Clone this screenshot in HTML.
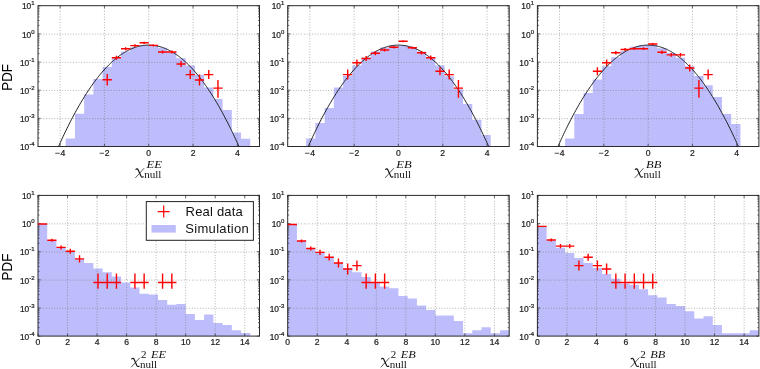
<!DOCTYPE html>
<html><head><meta charset="utf-8"><title>chart</title><style>
html,body{margin:0;padding:0;background:#fff;}
svg{display:block;will-change:transform;opacity:0.999}
.g{stroke:#666;stroke-width:0.55;stroke-dasharray:0.9 1.8;fill:none}
.t{font-family:"Liberation Sans",sans-serif;font-size:8.4px;fill:#222;stroke:#222;stroke-width:0.22px}
.s{font-size:6px}
.yl{font-family:"Liberation Sans",sans-serif;font-size:14.9px;fill:#000}
.lg{font-family:"Liberation Sans",sans-serif;font-size:13px;fill:#111}
.mi{font-family:"Liberation Serif",serif;font-style:italic;fill:#111}
.mr{font-family:"Liberation Serif",serif;fill:#111}
</style></head><body>
<svg width="760" height="369" viewBox="0 0 760 369">
<rect width="760" height="369" fill="#fff"/>
<path d="M38.00 146.50 L38.00 146.50 L47.23 146.50 L47.23 146.50 L56.46 146.50 L56.46 146.50 L65.69 146.50 L65.69 138.50 L74.92 138.50 L74.92 113.70 L84.15 113.70 L84.15 94.60 L93.38 94.60 L93.38 79.00 L102.60 79.00 L102.60 66.90 L111.83 66.90 L111.83 57.70 L121.06 57.70 L121.06 51.40 L130.29 51.40 L130.29 47.20 L139.52 47.20 L139.52 45.20 L148.75 45.20 L148.75 45.20 L157.98 45.20 L157.98 47.80 L167.21 47.80 L167.21 52.20 L176.44 52.20 L176.44 58.20 L185.67 58.20 L185.67 65.60 L194.90 65.60 L194.90 74.80 L204.12 74.80 L204.12 87.50 L213.35 87.50 L213.35 99.00 L222.58 99.00 L222.58 110.00 L231.81 110.00 L231.81 132.60 L241.04 132.60 L241.04 138.80 L250.27 138.80 L250.27 146.50 L259.50 146.50 L259.50 146.50 Z" fill="#bdbdfc"/>
<line x1="60.15" y1="5.70" x2="60.15" y2="146.50" class="g"/>
<line x1="104.45" y1="5.70" x2="104.45" y2="146.50" class="g"/>
<line x1="148.75" y1="5.70" x2="148.75" y2="146.50" class="g"/>
<line x1="193.05" y1="5.70" x2="193.05" y2="146.50" class="g"/>
<line x1="237.35" y1="5.70" x2="237.35" y2="146.50" class="g"/>
<line x1="38.00" y1="34.16" x2="259.50" y2="34.16" class="g"/>
<line x1="38.00" y1="62.32" x2="259.50" y2="62.32" class="g"/>
<line x1="38.00" y1="90.48" x2="259.50" y2="90.48" class="g"/>
<line x1="38.00" y1="118.64" x2="259.50" y2="118.64" class="g"/>
<polyline points="58.51,146.59 59.44,144.51 60.37,142.45 61.30,140.41 62.23,138.39 63.16,136.40 64.09,134.42 65.02,132.47 65.95,130.54 66.88,128.63 67.81,126.74 68.74,124.88 69.67,123.03 70.60,121.21 71.54,119.41 72.47,117.63 73.40,115.87 74.33,114.13 75.26,112.42 76.19,110.72 77.12,109.05 78.05,107.40 78.98,105.77 79.91,104.17 80.84,102.58 81.77,101.02 82.70,99.47 83.63,97.95 84.56,96.45 85.49,94.98 86.42,93.52 87.35,92.08 88.28,90.67 89.21,89.28 90.14,87.91 91.07,86.56 92.00,85.24 92.93,83.93 93.86,82.65 94.79,81.38 95.72,80.14 96.65,78.93 97.58,77.73 98.51,76.55 99.44,75.40 100.37,74.27 101.30,73.15 102.23,72.07 103.17,71.00 104.10,69.95 105.03,68.93 105.96,67.92 106.89,66.94 107.82,65.98 108.75,65.04 109.68,64.13 110.61,63.23 111.54,62.36 112.47,61.50 113.40,60.67 114.33,59.87 115.26,59.08 116.19,58.31 117.12,57.57 118.05,56.85 118.98,56.14 119.91,55.46 120.84,54.81 121.77,54.17 122.70,53.56 123.63,52.96 124.56,52.39 125.49,51.84 126.42,51.31 127.35,50.80 128.28,50.32 129.21,49.86 130.14,49.41 131.07,48.99 132.00,48.59 132.93,48.22 133.87,47.86 134.80,47.53 135.73,47.21 136.66,46.92 137.59,46.65 138.52,46.40 139.45,46.18 140.38,45.97 141.31,45.79 142.24,45.63 143.17,45.49 144.10,45.37 145.03,45.27 145.96,45.20 146.89,45.14 147.82,45.11 148.75,45.10 149.68,45.11 150.61,45.14 151.54,45.20 152.47,45.27 153.40,45.37 154.33,45.49 155.26,45.63 156.19,45.79 157.12,45.97 158.05,46.18 158.98,46.40 159.91,46.65 160.84,46.92 161.77,47.21 162.70,47.53 163.63,47.86 164.57,48.22 165.50,48.59 166.43,48.99 167.36,49.41 168.29,49.86 169.22,50.32 170.15,50.80 171.08,51.31 172.01,51.84 172.94,52.39 173.87,52.96 174.80,53.56 175.73,54.17 176.66,54.81 177.59,55.46 178.52,56.14 179.45,56.85 180.38,57.57 181.31,58.31 182.24,59.08 183.17,59.87 184.10,60.67 185.03,61.50 185.96,62.36 186.89,63.23 187.82,64.13 188.75,65.04 189.68,65.98 190.61,66.94 191.54,67.92 192.47,68.93 193.40,69.95 194.33,71.00 195.26,72.07 196.20,73.15 197.13,74.27 198.06,75.40 198.99,76.55 199.92,77.73 200.85,78.93 201.78,80.14 202.71,81.38 203.64,82.65 204.57,83.93 205.50,85.24 206.43,86.56 207.36,87.91 208.29,89.28 209.22,90.67 210.15,92.08 211.08,93.52 212.01,94.98 212.94,96.45 213.87,97.95 214.80,99.47 215.73,101.02 216.66,102.58 217.59,104.17 218.52,105.77 219.45,107.40 220.38,109.05 221.31,110.72 222.24,112.42 223.17,114.13 224.10,115.87 225.03,117.63 225.96,119.41 226.90,121.21 227.83,123.03 228.76,124.88 229.69,126.74 230.62,128.63 231.55,130.54 232.48,132.47 233.41,134.42 234.34,136.40 235.27,138.39 236.20,140.41 237.13,142.45 238.06,144.51 238.99,146.59" fill="none" stroke="#1c1c1c" stroke-width="0.98"/>
<path d="M60.15 146.50v-2.6M60.15 5.70v2.6M104.45 146.50v-2.6M104.45 5.70v2.6M148.75 146.50v-2.6M148.75 5.70v2.6M193.05 146.50v-2.6M193.05 5.70v2.6M237.35 146.50v-2.6M237.35 5.70v2.6M38.00 5.70h2.6M259.50 5.70h-2.6M38.00 25.38h1.5M259.50 25.38h-1.5M38.00 20.42h1.5M259.50 20.42h-1.5M38.00 16.91h1.5M259.50 16.91h-1.5M38.00 14.18h1.5M259.50 14.18h-1.5M38.00 11.95h1.5M259.50 11.95h-1.5M38.00 10.06h1.5M259.50 10.06h-1.5M38.00 8.43h1.5M259.50 8.43h-1.5M38.00 6.99h1.5M259.50 6.99h-1.5M38.00 33.86h2.6M259.50 33.86h-2.6M38.00 53.54h1.5M259.50 53.54h-1.5M38.00 48.58h1.5M259.50 48.58h-1.5M38.00 45.07h1.5M259.50 45.07h-1.5M38.00 42.34h1.5M259.50 42.34h-1.5M38.00 40.11h1.5M259.50 40.11h-1.5M38.00 38.22h1.5M259.50 38.22h-1.5M38.00 36.59h1.5M259.50 36.59h-1.5M38.00 35.15h1.5M259.50 35.15h-1.5M38.00 62.02h2.6M259.50 62.02h-2.6M38.00 81.70h1.5M259.50 81.70h-1.5M38.00 76.74h1.5M259.50 76.74h-1.5M38.00 73.23h1.5M259.50 73.23h-1.5M38.00 70.50h1.5M259.50 70.50h-1.5M38.00 68.27h1.5M259.50 68.27h-1.5M38.00 66.38h1.5M259.50 66.38h-1.5M38.00 64.75h1.5M259.50 64.75h-1.5M38.00 63.31h1.5M259.50 63.31h-1.5M38.00 90.18h2.6M259.50 90.18h-2.6M38.00 109.86h1.5M259.50 109.86h-1.5M38.00 104.90h1.5M259.50 104.90h-1.5M38.00 101.39h1.5M259.50 101.39h-1.5M38.00 98.66h1.5M259.50 98.66h-1.5M38.00 96.43h1.5M259.50 96.43h-1.5M38.00 94.54h1.5M259.50 94.54h-1.5M38.00 92.91h1.5M259.50 92.91h-1.5M38.00 91.47h1.5M259.50 91.47h-1.5M38.00 118.34h2.6M259.50 118.34h-2.6M38.00 138.02h1.5M259.50 138.02h-1.5M38.00 133.06h1.5M259.50 133.06h-1.5M38.00 129.55h1.5M259.50 129.55h-1.5M38.00 126.82h1.5M259.50 126.82h-1.5M38.00 124.59h1.5M259.50 124.59h-1.5M38.00 122.70h1.5M259.50 122.70h-1.5M38.00 121.07h1.5M259.50 121.07h-1.5M38.00 119.63h1.5M259.50 119.63h-1.5M38.00 146.50h2.6M259.50 146.50h-2.6" stroke="#2a2a2a" stroke-width="0.7" fill="none"/>
<rect x="38.00" y="5.70" width="221.50" height="140.80" fill="none" stroke="#2a2a2a" stroke-width="1"/>
<path d="M102.60 79.80H111.83M107.22 74.10V85.50M111.83 57.70H121.06M116.45 55.70V59.70M121.06 48.70H130.29M125.68 47.20V50.20M130.29 45.60H139.52M134.91 44.30V46.90M139.52 42.80H148.75M144.14 41.70V43.90M148.75 45.40H157.98M153.36 44.30V46.50M157.98 52.00H167.21M162.59 50.40V53.60M167.21 52.00H176.44M171.82 50.40V53.60M176.44 64.00H185.67M181.05 61.00V67.00M185.67 74.60H194.90M190.28 70.10V79.10M194.90 80.00H204.12M199.51 74.40V85.60M204.12 74.60H213.35M208.74 70.10V79.10M213.35 88.10H222.58M217.97 79.90V97.70" stroke="#ff0000" stroke-width="1.4" fill="none"/>
<path d="M55.25 153.25h4.5" stroke="#222" stroke-width="0.8" fill="none"/>
<text x="60.45" y="155.50" class="t" style="font-size:8.6px">4</text>
<path d="M99.55 153.25h4.5" stroke="#222" stroke-width="0.8" fill="none"/>
<text x="104.75" y="155.50" class="t" style="font-size:8.6px">2</text>
<text x="148.75" y="155.50" class="t" style="font-size:8.6px" text-anchor="middle">0</text>
<text x="193.05" y="155.50" class="t" style="font-size:8.6px" text-anchor="middle">2</text>
<text x="237.35" y="155.50" class="t" style="font-size:8.6px" text-anchor="middle">4</text>
<text x="34.60" y="9.40" class="t" text-anchor="end">10<tspan class="s" dy="-3.9">1</tspan></text>
<text x="34.60" y="37.56" class="t" text-anchor="end">10<tspan class="s" dy="-3.9">0</tspan></text>
<text x="34.60" y="65.72" class="t" text-anchor="end">10<tspan class="s" dy="-3.9">-1</tspan></text>
<text x="34.60" y="93.88" class="t" text-anchor="end">10<tspan class="s" dy="-3.9">-2</tspan></text>
<text x="34.60" y="122.04" class="t" text-anchor="end">10<tspan class="s" dy="-3.9">-3</tspan></text>
<text x="34.60" y="150.20" class="t" text-anchor="end">10<tspan class="s" dy="-3.9">-4</tspan></text>
<path d="M287.70 146.50 L287.70 146.50 L296.93 146.50 L296.93 146.50 L306.16 146.50 L306.16 138.50 L315.39 138.50 L315.39 122.90 L324.62 122.90 L324.62 108.00 L333.85 108.00 L333.85 87.60 L343.07 87.60 L343.07 75.90 L352.30 75.90 L352.30 65.50 L361.53 65.50 L361.53 57.60 L370.76 57.60 L370.76 51.60 L379.99 51.60 L379.99 47.60 L389.22 47.60 L389.22 45.40 L398.45 45.40 L398.45 45.40 L407.68 45.40 L407.68 47.60 L416.91 47.60 L416.91 51.60 L426.14 51.60 L426.14 57.60 L435.37 57.60 L435.37 65.40 L444.60 65.40 L444.60 76.30 L453.82 76.30 L453.82 89.30 L463.05 89.30 L463.05 103.90 L472.28 103.90 L472.28 119.80 L481.51 119.80 L481.51 135.10 L490.74 135.10 L490.74 146.50 L499.97 146.50 L499.97 146.50 L509.20 146.50 L509.20 146.50 Z" fill="#bdbdfc"/>
<line x1="309.85" y1="5.70" x2="309.85" y2="146.50" class="g"/>
<line x1="354.15" y1="5.70" x2="354.15" y2="146.50" class="g"/>
<line x1="398.45" y1="5.70" x2="398.45" y2="146.50" class="g"/>
<line x1="442.75" y1="5.70" x2="442.75" y2="146.50" class="g"/>
<line x1="487.05" y1="5.70" x2="487.05" y2="146.50" class="g"/>
<line x1="287.70" y1="34.16" x2="509.20" y2="34.16" class="g"/>
<line x1="287.70" y1="62.32" x2="509.20" y2="62.32" class="g"/>
<line x1="287.70" y1="90.48" x2="509.20" y2="90.48" class="g"/>
<line x1="287.70" y1="118.64" x2="509.20" y2="118.64" class="g"/>
<polyline points="308.21,146.59 309.14,144.51 310.07,142.45 311.00,140.41 311.93,138.39 312.86,136.40 313.79,134.42 314.72,132.47 315.65,130.54 316.58,128.63 317.51,126.74 318.44,124.88 319.37,123.03 320.30,121.21 321.24,119.41 322.17,117.63 323.10,115.87 324.03,114.13 324.96,112.42 325.89,110.72 326.82,109.05 327.75,107.40 328.68,105.77 329.61,104.17 330.54,102.58 331.47,101.02 332.40,99.47 333.33,97.95 334.26,96.45 335.19,94.98 336.12,93.52 337.05,92.08 337.98,90.67 338.91,89.28 339.84,87.91 340.77,86.56 341.70,85.24 342.63,83.93 343.56,82.65 344.49,81.38 345.42,80.14 346.35,78.93 347.28,77.73 348.21,76.55 349.14,75.40 350.07,74.27 351.00,73.15 351.94,72.07 352.87,71.00 353.80,69.95 354.73,68.93 355.66,67.92 356.59,66.94 357.52,65.98 358.45,65.04 359.38,64.13 360.31,63.23 361.24,62.36 362.17,61.50 363.10,60.67 364.03,59.87 364.96,59.08 365.89,58.31 366.82,57.57 367.75,56.85 368.68,56.14 369.61,55.46 370.54,54.81 371.47,54.17 372.40,53.56 373.33,52.96 374.26,52.39 375.19,51.84 376.12,51.31 377.05,50.80 377.98,50.32 378.91,49.86 379.84,49.41 380.77,48.99 381.70,48.59 382.63,48.22 383.57,47.86 384.50,47.53 385.43,47.21 386.36,46.92 387.29,46.65 388.22,46.40 389.15,46.18 390.08,45.97 391.01,45.79 391.94,45.63 392.87,45.49 393.80,45.37 394.73,45.27 395.66,45.20 396.59,45.14 397.52,45.11 398.45,45.10 399.38,45.11 400.31,45.14 401.24,45.20 402.17,45.27 403.10,45.37 404.03,45.49 404.96,45.63 405.89,45.79 406.82,45.97 407.75,46.18 408.68,46.40 409.61,46.65 410.54,46.92 411.47,47.21 412.40,47.53 413.33,47.86 414.27,48.22 415.20,48.59 416.13,48.99 417.06,49.41 417.99,49.86 418.92,50.32 419.85,50.80 420.78,51.31 421.71,51.84 422.64,52.39 423.57,52.96 424.50,53.56 425.43,54.17 426.36,54.81 427.29,55.46 428.22,56.14 429.15,56.85 430.08,57.57 431.01,58.31 431.94,59.08 432.87,59.87 433.80,60.67 434.73,61.50 435.66,62.36 436.59,63.23 437.52,64.13 438.45,65.04 439.38,65.98 440.31,66.94 441.24,67.92 442.17,68.93 443.10,69.95 444.03,71.00 444.96,72.07 445.90,73.15 446.83,74.27 447.76,75.40 448.69,76.55 449.62,77.73 450.55,78.93 451.48,80.14 452.41,81.38 453.34,82.65 454.27,83.93 455.20,85.24 456.13,86.56 457.06,87.91 457.99,89.28 458.92,90.67 459.85,92.08 460.78,93.52 461.71,94.98 462.64,96.45 463.57,97.95 464.50,99.47 465.43,101.02 466.36,102.58 467.29,104.17 468.22,105.77 469.15,107.40 470.08,109.05 471.01,110.72 471.94,112.42 472.87,114.13 473.80,115.87 474.73,117.63 475.66,119.41 476.60,121.21 477.53,123.03 478.46,124.88 479.39,126.74 480.32,128.63 481.25,130.54 482.18,132.47 483.11,134.42 484.04,136.40 484.97,138.39 485.90,140.41 486.83,142.45 487.76,144.51 488.69,146.59" fill="none" stroke="#1c1c1c" stroke-width="0.98"/>
<path d="M309.85 146.50v-2.6M309.85 5.70v2.6M354.15 146.50v-2.6M354.15 5.70v2.6M398.45 146.50v-2.6M398.45 5.70v2.6M442.75 146.50v-2.6M442.75 5.70v2.6M487.05 146.50v-2.6M487.05 5.70v2.6M287.70 5.70h2.6M509.20 5.70h-2.6M287.70 25.38h1.5M509.20 25.38h-1.5M287.70 20.42h1.5M509.20 20.42h-1.5M287.70 16.91h1.5M509.20 16.91h-1.5M287.70 14.18h1.5M509.20 14.18h-1.5M287.70 11.95h1.5M509.20 11.95h-1.5M287.70 10.06h1.5M509.20 10.06h-1.5M287.70 8.43h1.5M509.20 8.43h-1.5M287.70 6.99h1.5M509.20 6.99h-1.5M287.70 33.86h2.6M509.20 33.86h-2.6M287.70 53.54h1.5M509.20 53.54h-1.5M287.70 48.58h1.5M509.20 48.58h-1.5M287.70 45.07h1.5M509.20 45.07h-1.5M287.70 42.34h1.5M509.20 42.34h-1.5M287.70 40.11h1.5M509.20 40.11h-1.5M287.70 38.22h1.5M509.20 38.22h-1.5M287.70 36.59h1.5M509.20 36.59h-1.5M287.70 35.15h1.5M509.20 35.15h-1.5M287.70 62.02h2.6M509.20 62.02h-2.6M287.70 81.70h1.5M509.20 81.70h-1.5M287.70 76.74h1.5M509.20 76.74h-1.5M287.70 73.23h1.5M509.20 73.23h-1.5M287.70 70.50h1.5M509.20 70.50h-1.5M287.70 68.27h1.5M509.20 68.27h-1.5M287.70 66.38h1.5M509.20 66.38h-1.5M287.70 64.75h1.5M509.20 64.75h-1.5M287.70 63.31h1.5M509.20 63.31h-1.5M287.70 90.18h2.6M509.20 90.18h-2.6M287.70 109.86h1.5M509.20 109.86h-1.5M287.70 104.90h1.5M509.20 104.90h-1.5M287.70 101.39h1.5M509.20 101.39h-1.5M287.70 98.66h1.5M509.20 98.66h-1.5M287.70 96.43h1.5M509.20 96.43h-1.5M287.70 94.54h1.5M509.20 94.54h-1.5M287.70 92.91h1.5M509.20 92.91h-1.5M287.70 91.47h1.5M509.20 91.47h-1.5M287.70 118.34h2.6M509.20 118.34h-2.6M287.70 138.02h1.5M509.20 138.02h-1.5M287.70 133.06h1.5M509.20 133.06h-1.5M287.70 129.55h1.5M509.20 129.55h-1.5M287.70 126.82h1.5M509.20 126.82h-1.5M287.70 124.59h1.5M509.20 124.59h-1.5M287.70 122.70h1.5M509.20 122.70h-1.5M287.70 121.07h1.5M509.20 121.07h-1.5M287.70 119.63h1.5M509.20 119.63h-1.5M287.70 146.50h2.6M509.20 146.50h-2.6" stroke="#2a2a2a" stroke-width="0.7" fill="none"/>
<rect x="287.70" y="5.70" width="221.50" height="140.80" fill="none" stroke="#2a2a2a" stroke-width="1"/>
<path d="M343.07 74.60H352.30M347.69 69.60V79.60M352.30 62.80H361.53M356.92 59.50V66.10M361.53 58.50H370.76M366.15 56.00V61.00M370.76 53.30H379.99M375.38 51.30V55.30M379.99 50.00H389.22M384.61 48.40V51.60M389.22 47.20H398.45M393.84 45.90V48.50M398.45 41.20H407.68M403.06 40.20V42.20M407.68 47.80H416.91M412.29 46.50V49.10M416.91 52.70H426.14M421.52 51.00V54.40M426.14 57.70H435.37M430.75 55.50V59.90M435.37 71.20H444.60M439.98 67.20V75.20M444.60 74.60H453.82M449.21 69.60V79.60M453.82 88.10H463.05M458.44 79.90V97.70" stroke="#ff0000" stroke-width="1.4" fill="none"/>
<path d="M304.95 153.25h4.5" stroke="#222" stroke-width="0.8" fill="none"/>
<text x="310.15" y="155.50" class="t" style="font-size:8.6px">4</text>
<path d="M349.25 153.25h4.5" stroke="#222" stroke-width="0.8" fill="none"/>
<text x="354.45" y="155.50" class="t" style="font-size:8.6px">2</text>
<text x="398.45" y="155.50" class="t" style="font-size:8.6px" text-anchor="middle">0</text>
<text x="442.75" y="155.50" class="t" style="font-size:8.6px" text-anchor="middle">2</text>
<text x="487.05" y="155.50" class="t" style="font-size:8.6px" text-anchor="middle">4</text>
<text x="284.30" y="9.40" class="t" text-anchor="end">10<tspan class="s" dy="-3.9">1</tspan></text>
<text x="284.30" y="37.56" class="t" text-anchor="end">10<tspan class="s" dy="-3.9">0</tspan></text>
<text x="284.30" y="65.72" class="t" text-anchor="end">10<tspan class="s" dy="-3.9">-1</tspan></text>
<text x="284.30" y="93.88" class="t" text-anchor="end">10<tspan class="s" dy="-3.9">-2</tspan></text>
<text x="284.30" y="122.04" class="t" text-anchor="end">10<tspan class="s" dy="-3.9">-3</tspan></text>
<text x="284.30" y="150.20" class="t" text-anchor="end">10<tspan class="s" dy="-3.9">-4</tspan></text>
<path d="M537.40 146.50 L537.40 146.50 L546.63 146.50 L546.63 146.50 L555.86 146.50 L555.86 146.50 L565.09 146.50 L565.09 138.50 L574.32 138.50 L574.32 114.10 L583.55 114.10 L583.55 92.90 L592.77 92.90 L592.77 79.40 L602.00 79.40 L602.00 66.30 L611.23 66.30 L611.23 57.30 L620.46 57.30 L620.46 50.90 L629.69 50.90 L629.69 46.70 L638.92 46.70 L638.92 45.10 L648.15 45.10 L648.15 45.10 L657.38 45.10 L657.38 48.30 L666.61 48.30 L666.61 53.00 L675.84 53.00 L675.84 57.70 L685.07 57.70 L685.07 66.30 L694.30 66.30 L694.30 75.90 L703.52 75.90 L703.52 85.20 L712.75 85.20 L712.75 97.10 L721.98 97.10 L721.98 114.10 L731.21 114.10 L731.21 123.90 L740.44 123.90 L740.44 146.50 L749.67 146.50 L749.67 146.50 L758.90 146.50 L758.90 146.50 Z" fill="#bdbdfc"/>
<line x1="559.55" y1="5.70" x2="559.55" y2="146.50" class="g"/>
<line x1="603.85" y1="5.70" x2="603.85" y2="146.50" class="g"/>
<line x1="648.15" y1="5.70" x2="648.15" y2="146.50" class="g"/>
<line x1="692.45" y1="5.70" x2="692.45" y2="146.50" class="g"/>
<line x1="736.75" y1="5.70" x2="736.75" y2="146.50" class="g"/>
<line x1="537.40" y1="34.16" x2="758.90" y2="34.16" class="g"/>
<line x1="537.40" y1="62.32" x2="758.90" y2="62.32" class="g"/>
<line x1="537.40" y1="90.48" x2="758.90" y2="90.48" class="g"/>
<line x1="537.40" y1="118.64" x2="758.90" y2="118.64" class="g"/>
<polyline points="557.91,146.59 558.84,144.51 559.77,142.45 560.70,140.41 561.63,138.39 562.56,136.40 563.49,134.42 564.42,132.47 565.35,130.54 566.28,128.63 567.21,126.74 568.14,124.88 569.07,123.03 570.00,121.21 570.94,119.41 571.87,117.63 572.80,115.87 573.73,114.13 574.66,112.42 575.59,110.72 576.52,109.05 577.45,107.40 578.38,105.77 579.31,104.17 580.24,102.58 581.17,101.02 582.10,99.47 583.03,97.95 583.96,96.45 584.89,94.98 585.82,93.52 586.75,92.08 587.68,90.67 588.61,89.28 589.54,87.91 590.47,86.56 591.40,85.24 592.33,83.93 593.26,82.65 594.19,81.38 595.12,80.14 596.05,78.93 596.98,77.73 597.91,76.55 598.84,75.40 599.77,74.27 600.70,73.15 601.63,72.07 602.57,71.00 603.50,69.95 604.43,68.93 605.36,67.92 606.29,66.94 607.22,65.98 608.15,65.04 609.08,64.13 610.01,63.23 610.94,62.36 611.87,61.50 612.80,60.67 613.73,59.87 614.66,59.08 615.59,58.31 616.52,57.57 617.45,56.85 618.38,56.14 619.31,55.46 620.24,54.81 621.17,54.17 622.10,53.56 623.03,52.96 623.96,52.39 624.89,51.84 625.82,51.31 626.75,50.80 627.68,50.32 628.61,49.86 629.54,49.41 630.47,48.99 631.40,48.59 632.33,48.22 633.27,47.86 634.20,47.53 635.13,47.21 636.06,46.92 636.99,46.65 637.92,46.40 638.85,46.18 639.78,45.97 640.71,45.79 641.64,45.63 642.57,45.49 643.50,45.37 644.43,45.27 645.36,45.20 646.29,45.14 647.22,45.11 648.15,45.10 649.08,45.11 650.01,45.14 650.94,45.20 651.87,45.27 652.80,45.37 653.73,45.49 654.66,45.63 655.59,45.79 656.52,45.97 657.45,46.18 658.38,46.40 659.31,46.65 660.24,46.92 661.17,47.21 662.10,47.53 663.03,47.86 663.97,48.22 664.90,48.59 665.83,48.99 666.76,49.41 667.69,49.86 668.62,50.32 669.55,50.80 670.48,51.31 671.41,51.84 672.34,52.39 673.27,52.96 674.20,53.56 675.13,54.17 676.06,54.81 676.99,55.46 677.92,56.14 678.85,56.85 679.78,57.57 680.71,58.31 681.64,59.08 682.57,59.87 683.50,60.67 684.43,61.50 685.36,62.36 686.29,63.23 687.22,64.13 688.15,65.04 689.08,65.98 690.01,66.94 690.94,67.92 691.87,68.93 692.80,69.95 693.73,71.00 694.66,72.07 695.60,73.15 696.53,74.27 697.46,75.40 698.39,76.55 699.32,77.73 700.25,78.93 701.18,80.14 702.11,81.38 703.04,82.65 703.97,83.93 704.90,85.24 705.83,86.56 706.76,87.91 707.69,89.28 708.62,90.67 709.55,92.08 710.48,93.52 711.41,94.98 712.34,96.45 713.27,97.95 714.20,99.47 715.13,101.02 716.06,102.58 716.99,104.17 717.92,105.77 718.85,107.40 719.78,109.05 720.71,110.72 721.64,112.42 722.57,114.13 723.50,115.87 724.43,117.63 725.36,119.41 726.30,121.21 727.23,123.03 728.16,124.88 729.09,126.74 730.02,128.63 730.95,130.54 731.88,132.47 732.81,134.42 733.74,136.40 734.67,138.39 735.60,140.41 736.53,142.45 737.46,144.51 738.39,146.59" fill="none" stroke="#1c1c1c" stroke-width="0.98"/>
<path d="M559.55 146.50v-2.6M559.55 5.70v2.6M603.85 146.50v-2.6M603.85 5.70v2.6M648.15 146.50v-2.6M648.15 5.70v2.6M692.45 146.50v-2.6M692.45 5.70v2.6M736.75 146.50v-2.6M736.75 5.70v2.6M537.40 5.70h2.6M758.90 5.70h-2.6M537.40 25.38h1.5M758.90 25.38h-1.5M537.40 20.42h1.5M758.90 20.42h-1.5M537.40 16.91h1.5M758.90 16.91h-1.5M537.40 14.18h1.5M758.90 14.18h-1.5M537.40 11.95h1.5M758.90 11.95h-1.5M537.40 10.06h1.5M758.90 10.06h-1.5M537.40 8.43h1.5M758.90 8.43h-1.5M537.40 6.99h1.5M758.90 6.99h-1.5M537.40 33.86h2.6M758.90 33.86h-2.6M537.40 53.54h1.5M758.90 53.54h-1.5M537.40 48.58h1.5M758.90 48.58h-1.5M537.40 45.07h1.5M758.90 45.07h-1.5M537.40 42.34h1.5M758.90 42.34h-1.5M537.40 40.11h1.5M758.90 40.11h-1.5M537.40 38.22h1.5M758.90 38.22h-1.5M537.40 36.59h1.5M758.90 36.59h-1.5M537.40 35.15h1.5M758.90 35.15h-1.5M537.40 62.02h2.6M758.90 62.02h-2.6M537.40 81.70h1.5M758.90 81.70h-1.5M537.40 76.74h1.5M758.90 76.74h-1.5M537.40 73.23h1.5M758.90 73.23h-1.5M537.40 70.50h1.5M758.90 70.50h-1.5M537.40 68.27h1.5M758.90 68.27h-1.5M537.40 66.38h1.5M758.90 66.38h-1.5M537.40 64.75h1.5M758.90 64.75h-1.5M537.40 63.31h1.5M758.90 63.31h-1.5M537.40 90.18h2.6M758.90 90.18h-2.6M537.40 109.86h1.5M758.90 109.86h-1.5M537.40 104.90h1.5M758.90 104.90h-1.5M537.40 101.39h1.5M758.90 101.39h-1.5M537.40 98.66h1.5M758.90 98.66h-1.5M537.40 96.43h1.5M758.90 96.43h-1.5M537.40 94.54h1.5M758.90 94.54h-1.5M537.40 92.91h1.5M758.90 92.91h-1.5M537.40 91.47h1.5M758.90 91.47h-1.5M537.40 118.34h2.6M758.90 118.34h-2.6M537.40 138.02h1.5M758.90 138.02h-1.5M537.40 133.06h1.5M758.90 133.06h-1.5M537.40 129.55h1.5M758.90 129.55h-1.5M537.40 126.82h1.5M758.90 126.82h-1.5M537.40 124.59h1.5M758.90 124.59h-1.5M537.40 122.70h1.5M758.90 122.70h-1.5M537.40 121.07h1.5M758.90 121.07h-1.5M537.40 119.63h1.5M758.90 119.63h-1.5M537.40 146.50h2.6M758.90 146.50h-2.6" stroke="#2a2a2a" stroke-width="0.7" fill="none"/>
<rect x="537.40" y="5.70" width="221.50" height="140.80" fill="none" stroke="#2a2a2a" stroke-width="1"/>
<path d="M592.77 71.20H602.00M597.39 67.20V75.20M602.00 62.80H611.23M606.62 59.50V66.10M611.23 52.70H620.46M615.85 51.00V54.40M620.46 49.50H629.69M625.08 48.00V51.00M629.69 48.70H638.92M634.31 47.30V50.10M638.92 48.70H648.15M643.54 47.30V50.10M648.15 44.00H657.38M652.76 42.90V45.10M657.38 52.20H666.61M661.99 50.50V53.90M666.61 54.90H675.84M671.22 53.00V56.80M675.84 54.90H685.07M680.45 53.00V56.80M685.07 68.00H694.30M689.68 64.40V71.60M694.30 88.10H703.52M698.91 79.90V97.70M703.52 74.60H712.75M708.14 69.60V79.60" stroke="#ff0000" stroke-width="1.4" fill="none"/>
<path d="M554.65 153.25h4.5" stroke="#222" stroke-width="0.8" fill="none"/>
<text x="559.85" y="155.50" class="t" style="font-size:8.6px">4</text>
<path d="M598.95 153.25h4.5" stroke="#222" stroke-width="0.8" fill="none"/>
<text x="604.15" y="155.50" class="t" style="font-size:8.6px">2</text>
<text x="648.15" y="155.50" class="t" style="font-size:8.6px" text-anchor="middle">0</text>
<text x="692.45" y="155.50" class="t" style="font-size:8.6px" text-anchor="middle">2</text>
<text x="736.75" y="155.50" class="t" style="font-size:8.6px" text-anchor="middle">4</text>
<text x="534.00" y="9.40" class="t" text-anchor="end">10<tspan class="s" dy="-3.9">1</tspan></text>
<text x="534.00" y="37.56" class="t" text-anchor="end">10<tspan class="s" dy="-3.9">0</tspan></text>
<text x="534.00" y="65.72" class="t" text-anchor="end">10<tspan class="s" dy="-3.9">-1</tspan></text>
<text x="534.00" y="93.88" class="t" text-anchor="end">10<tspan class="s" dy="-3.9">-2</tspan></text>
<text x="534.00" y="122.04" class="t" text-anchor="end">10<tspan class="s" dy="-3.9">-3</tspan></text>
<text x="534.00" y="150.20" class="t" text-anchor="end">10<tspan class="s" dy="-3.9">-4</tspan></text>
<path d="M38.00 336.10 L38.00 224.00 L47.23 224.00 L47.23 240.30 L56.46 240.30 L56.46 247.40 L65.69 247.40 L65.69 251.60 L74.92 251.60 L74.92 258.90 L84.15 258.90 L84.15 263.10 L93.38 263.10 L93.38 268.40 L102.60 268.40 L102.60 272.30 L111.83 272.30 L111.83 276.60 L121.06 276.60 L121.06 282.60 L130.29 282.60 L130.29 287.40 L139.52 287.40 L139.52 293.70 L148.75 293.70 L148.75 294.60 L157.98 294.60 L157.98 300.10 L167.21 300.10 L167.21 304.80 L176.44 304.80 L176.44 304.00 L185.67 304.00 L185.67 314.00 L194.90 314.00 L194.90 319.90 L204.12 319.90 L204.12 314.40 L213.35 314.40 L213.35 323.00 L222.58 323.00 L222.58 325.10 L231.81 325.10 L231.81 330.20 L241.04 330.20 L241.04 333.00 L250.27 333.00 L250.27 336.10 L259.50 336.10 L259.50 336.10 Z" fill="#bdbdfc"/>
<line x1="67.53" y1="195.40" x2="67.53" y2="336.10" class="g"/>
<line x1="97.07" y1="195.40" x2="97.07" y2="336.10" class="g"/>
<line x1="126.60" y1="195.40" x2="126.60" y2="336.10" class="g"/>
<line x1="156.13" y1="195.40" x2="156.13" y2="336.10" class="g"/>
<line x1="185.67" y1="195.40" x2="185.67" y2="336.10" class="g"/>
<line x1="215.20" y1="195.40" x2="215.20" y2="336.10" class="g"/>
<line x1="244.73" y1="195.40" x2="244.73" y2="336.10" class="g"/>
<line x1="38.00" y1="223.84" x2="259.50" y2="223.84" class="g"/>
<line x1="38.00" y1="251.98" x2="259.50" y2="251.98" class="g"/>
<line x1="38.00" y1="280.12" x2="259.50" y2="280.12" class="g"/>
<line x1="38.00" y1="308.26" x2="259.50" y2="308.26" class="g"/>
<path d="M38.00 336.10v-2.6M38.00 195.40v2.6M67.53 336.10v-2.6M67.53 195.40v2.6M97.07 336.10v-2.6M97.07 195.40v2.6M126.60 336.10v-2.6M126.60 195.40v2.6M156.13 336.10v-2.6M156.13 195.40v2.6M185.67 336.10v-2.6M185.67 195.40v2.6M215.20 336.10v-2.6M215.20 195.40v2.6M244.73 336.10v-2.6M244.73 195.40v2.6M38.00 195.40h2.6M259.50 195.40h-2.6M38.00 215.07h1.5M259.50 215.07h-1.5M38.00 210.11h1.5M259.50 210.11h-1.5M38.00 206.60h1.5M259.50 206.60h-1.5M38.00 203.87h1.5M259.50 203.87h-1.5M38.00 201.64h1.5M259.50 201.64h-1.5M38.00 199.76h1.5M259.50 199.76h-1.5M38.00 198.13h1.5M259.50 198.13h-1.5M38.00 196.69h1.5M259.50 196.69h-1.5M38.00 223.54h2.6M259.50 223.54h-2.6M38.00 243.21h1.5M259.50 243.21h-1.5M38.00 238.25h1.5M259.50 238.25h-1.5M38.00 234.74h1.5M259.50 234.74h-1.5M38.00 232.01h1.5M259.50 232.01h-1.5M38.00 229.78h1.5M259.50 229.78h-1.5M38.00 227.90h1.5M259.50 227.90h-1.5M38.00 226.27h1.5M259.50 226.27h-1.5M38.00 224.83h1.5M259.50 224.83h-1.5M38.00 251.68h2.6M259.50 251.68h-2.6M38.00 271.35h1.5M259.50 271.35h-1.5M38.00 266.39h1.5M259.50 266.39h-1.5M38.00 262.88h1.5M259.50 262.88h-1.5M38.00 260.15h1.5M259.50 260.15h-1.5M38.00 257.92h1.5M259.50 257.92h-1.5M38.00 256.04h1.5M259.50 256.04h-1.5M38.00 254.41h1.5M259.50 254.41h-1.5M38.00 252.97h1.5M259.50 252.97h-1.5M38.00 279.82h2.6M259.50 279.82h-2.6M38.00 299.49h1.5M259.50 299.49h-1.5M38.00 294.53h1.5M259.50 294.53h-1.5M38.00 291.02h1.5M259.50 291.02h-1.5M38.00 288.29h1.5M259.50 288.29h-1.5M38.00 286.06h1.5M259.50 286.06h-1.5M38.00 284.18h1.5M259.50 284.18h-1.5M38.00 282.55h1.5M259.50 282.55h-1.5M38.00 281.11h1.5M259.50 281.11h-1.5M38.00 307.96h2.6M259.50 307.96h-2.6M38.00 327.63h1.5M259.50 327.63h-1.5M38.00 322.67h1.5M259.50 322.67h-1.5M38.00 319.16h1.5M259.50 319.16h-1.5M38.00 316.43h1.5M259.50 316.43h-1.5M38.00 314.20h1.5M259.50 314.20h-1.5M38.00 312.32h1.5M259.50 312.32h-1.5M38.00 310.69h1.5M259.50 310.69h-1.5M38.00 309.25h1.5M259.50 309.25h-1.5M38.00 336.10h2.6M259.50 336.10h-2.6" stroke="#2a2a2a" stroke-width="0.7" fill="none"/>
<rect x="38.00" y="195.40" width="221.50" height="140.70" fill="none" stroke="#2a2a2a" stroke-width="1"/>
<path d="M38.00 224.00H47.23M42.61 223.40V224.60M47.23 240.30H56.46M51.84 238.80V241.80M56.46 247.40H65.69M61.07 245.40V249.40M65.69 251.30H74.92M70.30 248.80V253.80M74.92 258.90H84.15M79.53 255.30V262.50M93.38 282.50H102.60M97.99 273.50V288.80M102.60 282.50H111.83M107.22 273.50V288.80M111.83 282.50H121.06M116.45 273.50V288.80M130.29 282.50H139.52M134.91 273.50V288.80M139.52 282.50H148.75M144.14 273.50V288.80M157.98 282.50H167.21M162.59 273.50V288.80M167.21 282.50H176.44M171.82 273.50V288.80" stroke="#ff0000" stroke-width="1.4" fill="none"/>
<text x="38.00" y="345.10" class="t" style="font-size:8.6px" text-anchor="middle">0</text>
<text x="67.53" y="345.10" class="t" style="font-size:8.6px" text-anchor="middle">2</text>
<text x="97.07" y="345.10" class="t" style="font-size:8.6px" text-anchor="middle">4</text>
<text x="126.60" y="345.10" class="t" style="font-size:8.6px" text-anchor="middle">6</text>
<text x="156.13" y="345.10" class="t" style="font-size:8.6px" text-anchor="middle">8</text>
<text x="185.67" y="345.10" class="t" style="font-size:8.6px" text-anchor="middle">10</text>
<text x="215.20" y="345.10" class="t" style="font-size:8.6px" text-anchor="middle">12</text>
<text x="244.73" y="345.10" class="t" style="font-size:8.6px" text-anchor="middle">14</text>
<text x="34.60" y="199.10" class="t" text-anchor="end">10<tspan class="s" dy="-3.9">1</tspan></text>
<text x="34.60" y="227.24" class="t" text-anchor="end">10<tspan class="s" dy="-3.9">0</tspan></text>
<text x="34.60" y="255.38" class="t" text-anchor="end">10<tspan class="s" dy="-3.9">-1</tspan></text>
<text x="34.60" y="283.52" class="t" text-anchor="end">10<tspan class="s" dy="-3.9">-2</tspan></text>
<text x="34.60" y="311.66" class="t" text-anchor="end">10<tspan class="s" dy="-3.9">-3</tspan></text>
<text x="34.60" y="339.80" class="t" text-anchor="end">10<tspan class="s" dy="-3.9">-4</tspan></text>
<path d="M287.70 336.10 L287.70 224.50 L296.93 224.50 L296.93 241.00 L306.16 241.00 L306.16 248.50 L315.39 248.50 L315.39 252.60 L324.62 252.60 L324.62 257.60 L333.85 257.60 L333.85 263.00 L343.07 263.00 L343.07 268.50 L352.30 268.50 L352.30 272.30 L361.53 272.30 L361.53 277.10 L370.76 277.10 L370.76 282.60 L379.99 282.60 L379.99 286.60 L389.22 286.60 L389.22 288.20 L398.45 288.20 L398.45 296.10 L407.68 296.10 L407.68 298.50 L416.91 298.50 L416.91 305.40 L426.14 305.40 L426.14 310.00 L435.37 310.00 L435.37 315.50 L444.60 315.50 L444.60 315.50 L453.82 315.50 L453.82 321.00 L463.05 321.00 L463.05 333.30 L472.28 333.30 L472.28 330.20 L481.51 330.20 L481.51 327.30 L490.74 327.30 L490.74 333.30 L499.97 333.30 L499.97 330.20 L509.20 330.20 L509.20 336.10 Z" fill="#bdbdfc"/>
<line x1="317.23" y1="195.40" x2="317.23" y2="336.10" class="g"/>
<line x1="346.77" y1="195.40" x2="346.77" y2="336.10" class="g"/>
<line x1="376.30" y1="195.40" x2="376.30" y2="336.10" class="g"/>
<line x1="405.83" y1="195.40" x2="405.83" y2="336.10" class="g"/>
<line x1="435.37" y1="195.40" x2="435.37" y2="336.10" class="g"/>
<line x1="464.90" y1="195.40" x2="464.90" y2="336.10" class="g"/>
<line x1="494.43" y1="195.40" x2="494.43" y2="336.10" class="g"/>
<line x1="287.70" y1="223.84" x2="509.20" y2="223.84" class="g"/>
<line x1="287.70" y1="251.98" x2="509.20" y2="251.98" class="g"/>
<line x1="287.70" y1="280.12" x2="509.20" y2="280.12" class="g"/>
<line x1="287.70" y1="308.26" x2="509.20" y2="308.26" class="g"/>
<path d="M287.70 336.10v-2.6M287.70 195.40v2.6M317.23 336.10v-2.6M317.23 195.40v2.6M346.77 336.10v-2.6M346.77 195.40v2.6M376.30 336.10v-2.6M376.30 195.40v2.6M405.83 336.10v-2.6M405.83 195.40v2.6M435.37 336.10v-2.6M435.37 195.40v2.6M464.90 336.10v-2.6M464.90 195.40v2.6M494.43 336.10v-2.6M494.43 195.40v2.6M287.70 195.40h2.6M509.20 195.40h-2.6M287.70 215.07h1.5M509.20 215.07h-1.5M287.70 210.11h1.5M509.20 210.11h-1.5M287.70 206.60h1.5M509.20 206.60h-1.5M287.70 203.87h1.5M509.20 203.87h-1.5M287.70 201.64h1.5M509.20 201.64h-1.5M287.70 199.76h1.5M509.20 199.76h-1.5M287.70 198.13h1.5M509.20 198.13h-1.5M287.70 196.69h1.5M509.20 196.69h-1.5M287.70 223.54h2.6M509.20 223.54h-2.6M287.70 243.21h1.5M509.20 243.21h-1.5M287.70 238.25h1.5M509.20 238.25h-1.5M287.70 234.74h1.5M509.20 234.74h-1.5M287.70 232.01h1.5M509.20 232.01h-1.5M287.70 229.78h1.5M509.20 229.78h-1.5M287.70 227.90h1.5M509.20 227.90h-1.5M287.70 226.27h1.5M509.20 226.27h-1.5M287.70 224.83h1.5M509.20 224.83h-1.5M287.70 251.68h2.6M509.20 251.68h-2.6M287.70 271.35h1.5M509.20 271.35h-1.5M287.70 266.39h1.5M509.20 266.39h-1.5M287.70 262.88h1.5M509.20 262.88h-1.5M287.70 260.15h1.5M509.20 260.15h-1.5M287.70 257.92h1.5M509.20 257.92h-1.5M287.70 256.04h1.5M509.20 256.04h-1.5M287.70 254.41h1.5M509.20 254.41h-1.5M287.70 252.97h1.5M509.20 252.97h-1.5M287.70 279.82h2.6M509.20 279.82h-2.6M287.70 299.49h1.5M509.20 299.49h-1.5M287.70 294.53h1.5M509.20 294.53h-1.5M287.70 291.02h1.5M509.20 291.02h-1.5M287.70 288.29h1.5M509.20 288.29h-1.5M287.70 286.06h1.5M509.20 286.06h-1.5M287.70 284.18h1.5M509.20 284.18h-1.5M287.70 282.55h1.5M509.20 282.55h-1.5M287.70 281.11h1.5M509.20 281.11h-1.5M287.70 307.96h2.6M509.20 307.96h-2.6M287.70 327.63h1.5M509.20 327.63h-1.5M287.70 322.67h1.5M509.20 322.67h-1.5M287.70 319.16h1.5M509.20 319.16h-1.5M287.70 316.43h1.5M509.20 316.43h-1.5M287.70 314.20h1.5M509.20 314.20h-1.5M287.70 312.32h1.5M509.20 312.32h-1.5M287.70 310.69h1.5M509.20 310.69h-1.5M287.70 309.25h1.5M509.20 309.25h-1.5M287.70 336.10h2.6M509.20 336.10h-2.6" stroke="#2a2a2a" stroke-width="0.7" fill="none"/>
<rect x="287.70" y="195.40" width="221.50" height="140.70" fill="none" stroke="#2a2a2a" stroke-width="1"/>
<path d="M287.70 224.50H296.93M292.31 223.90V225.10M296.93 241.00H306.16M301.54 239.50V242.50M306.16 248.50H315.39M310.77 246.50V250.50M315.39 252.40H324.62M320.00 249.80V255.00M324.62 257.20H333.85M329.23 253.80V260.60M333.85 263.00H343.07M338.46 258.40V267.60M343.07 269.00H352.30M347.69 263.40V274.60M352.30 265.60H361.53M356.92 260.60V270.60M361.53 282.50H370.76M366.15 273.50V288.80M370.76 282.50H379.99M375.38 273.50V288.80M379.99 282.50H389.22M384.61 273.50V288.80" stroke="#ff0000" stroke-width="1.4" fill="none"/>
<text x="287.70" y="345.10" class="t" style="font-size:8.6px" text-anchor="middle">0</text>
<text x="317.23" y="345.10" class="t" style="font-size:8.6px" text-anchor="middle">2</text>
<text x="346.77" y="345.10" class="t" style="font-size:8.6px" text-anchor="middle">4</text>
<text x="376.30" y="345.10" class="t" style="font-size:8.6px" text-anchor="middle">6</text>
<text x="405.83" y="345.10" class="t" style="font-size:8.6px" text-anchor="middle">8</text>
<text x="435.37" y="345.10" class="t" style="font-size:8.6px" text-anchor="middle">10</text>
<text x="464.90" y="345.10" class="t" style="font-size:8.6px" text-anchor="middle">12</text>
<text x="494.43" y="345.10" class="t" style="font-size:8.6px" text-anchor="middle">14</text>
<text x="284.30" y="199.10" class="t" text-anchor="end">10<tspan class="s" dy="-3.9">1</tspan></text>
<text x="284.30" y="227.24" class="t" text-anchor="end">10<tspan class="s" dy="-3.9">0</tspan></text>
<text x="284.30" y="255.38" class="t" text-anchor="end">10<tspan class="s" dy="-3.9">-1</tspan></text>
<text x="284.30" y="283.52" class="t" text-anchor="end">10<tspan class="s" dy="-3.9">-2</tspan></text>
<text x="284.30" y="311.66" class="t" text-anchor="end">10<tspan class="s" dy="-3.9">-3</tspan></text>
<text x="284.30" y="339.80" class="t" text-anchor="end">10<tspan class="s" dy="-3.9">-4</tspan></text>
<path d="M537.40 336.10 L537.40 226.40 L546.63 226.40 L546.63 240.30 L555.86 240.30 L555.86 247.80 L565.09 247.80 L565.09 252.90 L574.32 252.90 L574.32 258.10 L583.55 258.10 L583.55 263.00 L592.77 263.00 L592.77 268.00 L602.00 268.00 L602.00 274.00 L611.23 274.00 L611.23 278.70 L620.46 278.70 L620.46 283.40 L629.69 283.40 L629.69 284.70 L638.92 284.70 L638.92 289.30 L648.15 289.30 L648.15 295.20 L657.38 295.20 L657.38 297.50 L666.61 297.50 L666.61 303.90 L675.84 303.90 L675.84 306.10 L685.07 306.10 L685.07 311.30 L694.30 311.30 L694.30 318.60 L703.52 318.60 L703.52 316.30 L712.75 316.30 L712.75 325.00 L721.98 325.00 L721.98 333.30 L731.21 333.30 L731.21 333.30 L740.44 333.30 L740.44 333.30 L749.67 333.30 L749.67 330.20 L758.90 330.20 L758.90 336.10 Z" fill="#bdbdfc"/>
<line x1="566.93" y1="195.40" x2="566.93" y2="336.10" class="g"/>
<line x1="596.47" y1="195.40" x2="596.47" y2="336.10" class="g"/>
<line x1="626.00" y1="195.40" x2="626.00" y2="336.10" class="g"/>
<line x1="655.53" y1="195.40" x2="655.53" y2="336.10" class="g"/>
<line x1="685.07" y1="195.40" x2="685.07" y2="336.10" class="g"/>
<line x1="714.60" y1="195.40" x2="714.60" y2="336.10" class="g"/>
<line x1="744.13" y1="195.40" x2="744.13" y2="336.10" class="g"/>
<line x1="537.40" y1="223.84" x2="758.90" y2="223.84" class="g"/>
<line x1="537.40" y1="251.98" x2="758.90" y2="251.98" class="g"/>
<line x1="537.40" y1="280.12" x2="758.90" y2="280.12" class="g"/>
<line x1="537.40" y1="308.26" x2="758.90" y2="308.26" class="g"/>
<path d="M537.40 336.10v-2.6M537.40 195.40v2.6M566.93 336.10v-2.6M566.93 195.40v2.6M596.47 336.10v-2.6M596.47 195.40v2.6M626.00 336.10v-2.6M626.00 195.40v2.6M655.53 336.10v-2.6M655.53 195.40v2.6M685.07 336.10v-2.6M685.07 195.40v2.6M714.60 336.10v-2.6M714.60 195.40v2.6M744.13 336.10v-2.6M744.13 195.40v2.6M537.40 195.40h2.6M758.90 195.40h-2.6M537.40 215.07h1.5M758.90 215.07h-1.5M537.40 210.11h1.5M758.90 210.11h-1.5M537.40 206.60h1.5M758.90 206.60h-1.5M537.40 203.87h1.5M758.90 203.87h-1.5M537.40 201.64h1.5M758.90 201.64h-1.5M537.40 199.76h1.5M758.90 199.76h-1.5M537.40 198.13h1.5M758.90 198.13h-1.5M537.40 196.69h1.5M758.90 196.69h-1.5M537.40 223.54h2.6M758.90 223.54h-2.6M537.40 243.21h1.5M758.90 243.21h-1.5M537.40 238.25h1.5M758.90 238.25h-1.5M537.40 234.74h1.5M758.90 234.74h-1.5M537.40 232.01h1.5M758.90 232.01h-1.5M537.40 229.78h1.5M758.90 229.78h-1.5M537.40 227.90h1.5M758.90 227.90h-1.5M537.40 226.27h1.5M758.90 226.27h-1.5M537.40 224.83h1.5M758.90 224.83h-1.5M537.40 251.68h2.6M758.90 251.68h-2.6M537.40 271.35h1.5M758.90 271.35h-1.5M537.40 266.39h1.5M758.90 266.39h-1.5M537.40 262.88h1.5M758.90 262.88h-1.5M537.40 260.15h1.5M758.90 260.15h-1.5M537.40 257.92h1.5M758.90 257.92h-1.5M537.40 256.04h1.5M758.90 256.04h-1.5M537.40 254.41h1.5M758.90 254.41h-1.5M537.40 252.97h1.5M758.90 252.97h-1.5M537.40 279.82h2.6M758.90 279.82h-2.6M537.40 299.49h1.5M758.90 299.49h-1.5M537.40 294.53h1.5M758.90 294.53h-1.5M537.40 291.02h1.5M758.90 291.02h-1.5M537.40 288.29h1.5M758.90 288.29h-1.5M537.40 286.06h1.5M758.90 286.06h-1.5M537.40 284.18h1.5M758.90 284.18h-1.5M537.40 282.55h1.5M758.90 282.55h-1.5M537.40 281.11h1.5M758.90 281.11h-1.5M537.40 307.96h2.6M758.90 307.96h-2.6M537.40 327.63h1.5M758.90 327.63h-1.5M537.40 322.67h1.5M758.90 322.67h-1.5M537.40 319.16h1.5M758.90 319.16h-1.5M537.40 316.43h1.5M758.90 316.43h-1.5M537.40 314.20h1.5M758.90 314.20h-1.5M537.40 312.32h1.5M758.90 312.32h-1.5M537.40 310.69h1.5M758.90 310.69h-1.5M537.40 309.25h1.5M758.90 309.25h-1.5M537.40 336.10h2.6M758.90 336.10h-2.6" stroke="#2a2a2a" stroke-width="0.7" fill="none"/>
<rect x="537.40" y="195.40" width="221.50" height="140.70" fill="none" stroke="#2a2a2a" stroke-width="1"/>
<path d="M537.40 226.40H546.63M542.01 225.80V227.00M546.63 240.00H555.86M551.24 238.50V241.50M555.86 246.10H565.09M560.47 243.90V248.30M565.09 246.10H574.32M569.70 243.90V248.30M574.32 265.60H583.55M578.93 260.60V270.60M583.55 257.30H592.77M588.16 253.80V260.80M592.77 265.60H602.00M597.39 260.60V270.60M602.00 269.00H611.23M606.62 263.40V274.60M611.23 282.50H620.46M615.85 273.50V288.80M620.46 282.50H629.69M625.08 273.50V288.80M629.69 282.50H638.92M634.31 273.50V288.80M638.92 282.50H648.15M643.54 273.50V288.80M648.15 282.50H657.38M652.76 273.50V288.80" stroke="#ff0000" stroke-width="1.4" fill="none"/>
<text x="537.40" y="345.10" class="t" style="font-size:8.6px" text-anchor="middle">0</text>
<text x="566.93" y="345.10" class="t" style="font-size:8.6px" text-anchor="middle">2</text>
<text x="596.47" y="345.10" class="t" style="font-size:8.6px" text-anchor="middle">4</text>
<text x="626.00" y="345.10" class="t" style="font-size:8.6px" text-anchor="middle">6</text>
<text x="655.53" y="345.10" class="t" style="font-size:8.6px" text-anchor="middle">8</text>
<text x="685.07" y="345.10" class="t" style="font-size:8.6px" text-anchor="middle">10</text>
<text x="714.60" y="345.10" class="t" style="font-size:8.6px" text-anchor="middle">12</text>
<text x="744.13" y="345.10" class="t" style="font-size:8.6px" text-anchor="middle">14</text>
<text x="534.00" y="199.10" class="t" text-anchor="end">10<tspan class="s" dy="-3.9">1</tspan></text>
<text x="534.00" y="227.24" class="t" text-anchor="end">10<tspan class="s" dy="-3.9">0</tspan></text>
<text x="534.00" y="255.38" class="t" text-anchor="end">10<tspan class="s" dy="-3.9">-1</tspan></text>
<text x="534.00" y="283.52" class="t" text-anchor="end">10<tspan class="s" dy="-3.9">-2</tspan></text>
<text x="534.00" y="311.66" class="t" text-anchor="end">10<tspan class="s" dy="-3.9">-3</tspan></text>
<text x="534.00" y="339.80" class="t" text-anchor="end">10<tspan class="s" dy="-3.9">-4</tspan></text>
<text class="yl" transform="translate(12.2,77.40) rotate(-90) scale(0.9,1)" text-anchor="middle">PDF</text>
<text class="yl" transform="translate(12.2,267.05) rotate(-90) scale(0.9,1)" text-anchor="middle">PDF</text>
<g transform="translate(135.55,168.20)" fill="none" stroke="#111" stroke-linecap="round"><path d="M0.4,1.2C1.0,0.5 2.0,0.4 2.6,1.5L5.5,8.0C6.0,9.0 6.9,9.2 7.7,8.6" stroke-width="1.15"/><path d="M8.3,0.3L0.1,9.4" stroke-width="0.7"/></g>
<text class="mr" x="144.15" y="178.30" font-size="11.4" textLength="17.2" lengthAdjust="spacingAndGlyphs">null</text>
<text class="mi" x="146.55" y="168.20" font-size="10.6" textLength="15.4" lengthAdjust="spacingAndGlyphs">EE</text>
<g transform="translate(131.35,357.60)" fill="none" stroke="#111" stroke-linecap="round"><path d="M0.4,1.2C1.0,0.5 2.0,0.4 2.6,1.5L5.5,8.0C6.0,9.0 6.9,9.2 7.7,8.6" stroke-width="1.15"/><path d="M8.3,0.3L0.1,9.4" stroke-width="0.7"/></g>
<text class="mr" x="139.95" y="367.70" font-size="11.4" textLength="17.2" lengthAdjust="spacingAndGlyphs">null</text>
<text class="mr" x="140.95" y="358.20" font-size="11">2</text>
<text class="mi" x="150.95" y="358.20" font-size="10.6" textLength="15.0" lengthAdjust="spacingAndGlyphs">EE</text>
<g transform="translate(385.25,168.20)" fill="none" stroke="#111" stroke-linecap="round"><path d="M0.4,1.2C1.0,0.5 2.0,0.4 2.6,1.5L5.5,8.0C6.0,9.0 6.9,9.2 7.7,8.6" stroke-width="1.15"/><path d="M8.3,0.3L0.1,9.4" stroke-width="0.7"/></g>
<text class="mr" x="393.85" y="178.30" font-size="11.4" textLength="17.2" lengthAdjust="spacingAndGlyphs">null</text>
<text class="mi" x="396.25" y="168.20" font-size="10.6" textLength="15.4" lengthAdjust="spacingAndGlyphs">EB</text>
<g transform="translate(381.05,357.60)" fill="none" stroke="#111" stroke-linecap="round"><path d="M0.4,1.2C1.0,0.5 2.0,0.4 2.6,1.5L5.5,8.0C6.0,9.0 6.9,9.2 7.7,8.6" stroke-width="1.15"/><path d="M8.3,0.3L0.1,9.4" stroke-width="0.7"/></g>
<text class="mr" x="389.65" y="367.70" font-size="11.4" textLength="17.2" lengthAdjust="spacingAndGlyphs">null</text>
<text class="mr" x="390.65" y="358.20" font-size="11">2</text>
<text class="mi" x="400.65" y="358.20" font-size="10.6" textLength="15.0" lengthAdjust="spacingAndGlyphs">EB</text>
<g transform="translate(634.95,168.20)" fill="none" stroke="#111" stroke-linecap="round"><path d="M0.4,1.2C1.0,0.5 2.0,0.4 2.6,1.5L5.5,8.0C6.0,9.0 6.9,9.2 7.7,8.6" stroke-width="1.15"/><path d="M8.3,0.3L0.1,9.4" stroke-width="0.7"/></g>
<text class="mr" x="643.55" y="178.30" font-size="11.4" textLength="17.2" lengthAdjust="spacingAndGlyphs">null</text>
<text class="mi" x="645.95" y="168.20" font-size="10.6" textLength="15.4" lengthAdjust="spacingAndGlyphs">BB</text>
<g transform="translate(630.75,357.60)" fill="none" stroke="#111" stroke-linecap="round"><path d="M0.4,1.2C1.0,0.5 2.0,0.4 2.6,1.5L5.5,8.0C6.0,9.0 6.9,9.2 7.7,8.6" stroke-width="1.15"/><path d="M8.3,0.3L0.1,9.4" stroke-width="0.7"/></g>
<text class="mr" x="639.35" y="367.70" font-size="11.4" textLength="17.2" lengthAdjust="spacingAndGlyphs">null</text>
<text class="mr" x="640.35" y="358.20" font-size="11">2</text>
<text class="mi" x="650.35" y="358.20" font-size="10.6" textLength="15.0" lengthAdjust="spacingAndGlyphs">BB</text>
<rect x="146.3" y="201.6" width="107.1" height="38.7" fill="#fff" stroke="#222" stroke-width="1"/>
<path d="M157.7 211.6h12M163.7 205.6v12" stroke="#ff0000" stroke-width="1.2" fill="none"/>
<rect x="151.5" y="225" width="24.3" height="7.6" fill="#bdbdfc"/>
<text class="lg" x="185.6" y="215.9" letter-spacing="0.2">Real data</text>
<text class="lg" x="185.2" y="233.0" letter-spacing="0.33">Simulation</text>
</svg></body></html>
